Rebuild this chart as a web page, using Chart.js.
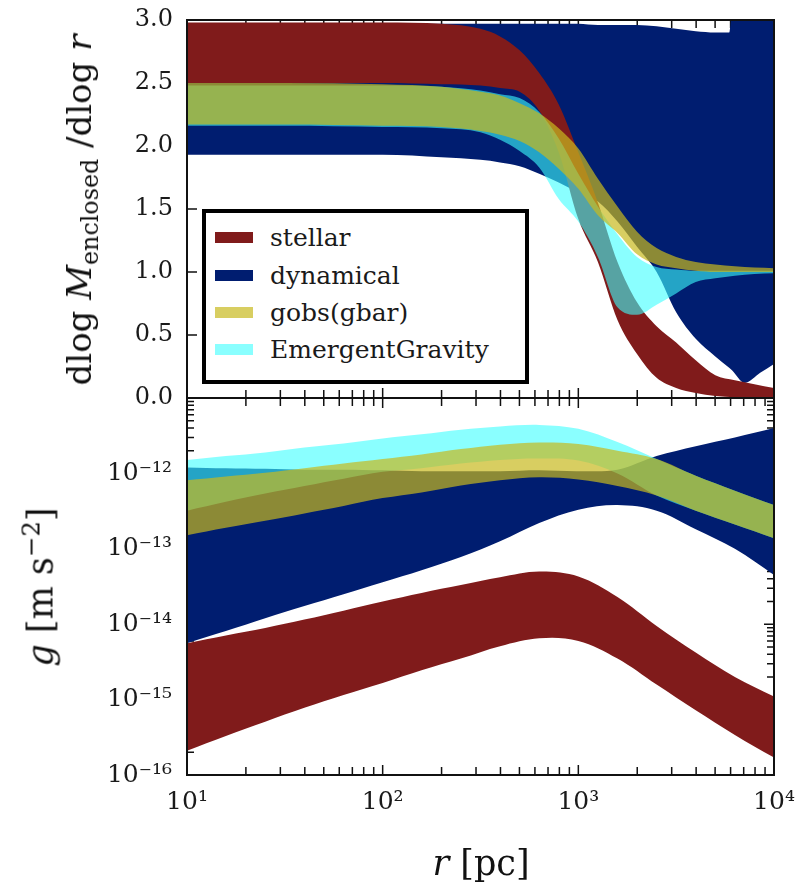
<!DOCTYPE html>
<html>
<head>
<meta charset="utf-8">
<script src="https://cdn.jsdelivr.net/npm/chart.js@4.4.0/dist/chart.umd.min.js"></script>
<style>
html,body{margin:0;padding:0;background:#fff;}
#wrap{position:relative;width:800px;height:883px;overflow:hidden;font-family:'DejaVu Serif',serif;color:#111;}
canvas{position:absolute;left:0;}
#cTop{top:0;}
#cBot{top:390px;}
.ttl{position:absolute;white-space:nowrap;font-size:35px;line-height:1;}
.rot{transform:translate(-50%,-50%) rotate(-90deg);}
.ttl sub{font-size:0.7em;vertical-align:-0.3em;line-height:0;}
.ttl sup{font-size:0.7em;vertical-align:0.55em;line-height:0;}
#legend{position:absolute;left:202px;top:209px;width:319px;height:167px;border:4px solid #000;background:#fff;}
.row{position:absolute;left:9px;height:30px;display:flex;align-items:center;font-size:25px;color:#1a1a1a;white-space:nowrap;}
.patch{width:38px;height:11px;margin-right:17px;}
</style>
</head>
<body>
<div id="wrap">
  <canvas id="cTop" width="800" height="420"></canvas>
  <canvas id="cBot" width="800" height="493"></canvas>
  <div class="ttl rot" style="left:79px;top:210px;font-size:34px;">dlog <i>M</i><sub>enclosed</sub> /dlog <i>r</i></div>
  <div class="ttl rot" style="left:41px;top:587px;"><i>g</i> [m s<sup>−2</sup>]</div>
  <div class="ttl" style="left:481px;top:846px;transform:translateX(-50%);"><i>r</i> [pc]</div>
  <div id="legend"></div>
</div>
<script>
// ---------- legend / series ----------
const SERIES_NAMES = ['stellar', 'dynamical', 'gobs(gbar)', 'EmergentGravity'];
const SERIES_COLORS = ['#801b1b', '#001d70', 'rgba(200,185,30,0.7)', 'rgba(60,255,255,0.6)'];

// ---------- ticks ----------
const X_TICKS = [10, 100, 1000, 10000];
const X_TICK_LABELS = ['10¹', '10²', '10³', '10⁴'];
const TOP_Y_TICKS = [0, 0.5, 1, 1.5, 2, 2.5, 3];
const TOP_Y_TICK_LABELS = ['0.0', '0.5', '1.0', '1.5', '2.0', '2.5', '3.0'];
const BOT_Y_TICKS = [1e-16, 1e-15, 1e-14, 1e-13, 1e-12];
const BOT_Y_TICK_LABELS = ['10⁻¹⁶', '10⁻¹⁵', '10⁻¹⁴', '10⁻¹³', '10⁻¹²'];

// ---------- top panel: dlog M_enclosed / dlog r ----------
const rTop = [10, 31.6, 100, 200, 316, 398, 501, 631, 794, 1000, 1259, 1585, 1995, 2512, 3162, 3981, 5012, 6310, 7943, 10000];
const stellarTopUpper = [2.98, 2.98, 2.98, 2.97, 2.93, 2.87, 2.76, 2.58, 2.33, 1.95, 1.55, 1.08, 0.76, 0.57, 0.44, 0.30, 0.18, 0.14, 0.11, 0.08];
const stellarTopLower = [2.50, 2.50, 2.50, 2.49, 2.48, 2.46, 2.43, 2.28, 1.95, 1.42, 1.08, 0.62, 0.35, 0.16, 0.08, 0.04, 0.015, 0.005, 0.0, 0.0];
const gobsTopUpper = [2.50, 2.50, 2.49, 2.47, 2.43, 2.40, 2.34, 2.26, 2.14, 1.98, 1.74, 1.52, 1.32, 1.19, 1.12, 1.08, 1.06, 1.045, 1.035, 1.03];
const gobsTopLower = [2.17, 2.17, 2.16, 2.15, 2.12, 2.09, 2.04, 1.95, 1.82, 1.66, 1.45, 1.31, 1.14, 1.06, 1.03, 1.01, 1.0, 1.0, 1.0, 1.0];
const egTopUpper = [2.48, 2.48, 2.48, 2.47, 2.44, 2.41, 2.38, 2.27, 2.06, 1.78, 1.52, 1.30, 1.12, 1.04, 1.02, 1.01, 1.01, 1.01, 1.01, 1.01];
const egTopLower = [2.16, 2.16, 2.15, 2.14, 2.11, 2.05, 1.96, 1.83, 1.58, 1.40, 1.12, 0.72, 0.66, 0.74, 0.83, 0.92, 0.95, 0.97, 0.985, 0.99];
const rDynTop = [10, 31.6, 100, 200, 316, 398, 501, 631, 794, 1000, 1259, 1585, 1995, 2512, 3162, 3981, 5012, 5900, 6100, 7079, 8500, 10000];
const dynTopUpper = [2.97, 2.97, 2.97, 2.97, 2.97, 2.97, 2.97, 2.97, 2.97, 2.97, 2.96, 2.96, 2.96, 2.95, 2.93, 2.91, 2.90, 2.90, 3.05, 3.05, 3.05, 3.05];
const dynTopLower = [1.93, 1.93, 1.93, 1.91, 1.89, 1.87, 1.84, 1.78, 1.71, 1.63, 1.56, 1.40, 1.20, 1.00, 0.68, 0.47, 0.33, 0.24, 0.22, 0.12, 0.20, 0.27];

// ---------- bottom panel: g [m s^-2] ----------
const rBot = [10, 15.8, 25.1, 39.8, 63.1, 100, 158, 251, 398, 631, 1000, 1585, 2512, 3981, 6310, 10000];
const stellarGUpper = [5.6e-15, 7.1e-15, 8.9e-15, 1.15e-14, 1.51e-14, 2.0e-14, 2.6e-14, 3.3e-14, 4.2e-14, 5.0e-14, 4.3e-14, 2.3e-14, 9.5e-15, 4.2e-15, 2.0e-15, 1.1e-15];
const stellarGLower = [2.1e-16, 3.3e-16, 5.1e-16, 7.8e-16, 1.15e-15, 1.66e-15, 2.45e-15, 3.5e-15, 5.1e-15, 6.5e-15, 6.0e-15, 3.5e-15, 1.58e-15, 7.2e-16, 3.4e-16, 1.7e-16];
const dynGUpper = [1.2e-12, 1.17e-12, 1.15e-12, 1.12e-12, 1.12e-12, 1.1e-12, 1.07e-12, 1.07e-12, 1.07e-12, 1.1e-12, 1.07e-12, 1.12e-12, 1.7e-12, 2.3e-12, 3.0e-12, 4.0e-12];
const dynGLower = [5.6e-15, 8.1e-15, 1.2e-14, 1.74e-14, 2.5e-14, 3.6e-14, 5.2e-14, 7.8e-14, 1.26e-13, 2.2e-13, 3.3e-13, 3.8e-13, 3.2e-13, 1.82e-13, 1.0e-13, 4.5e-14];
const gobsGUpper = [8.1e-13, 9.1e-13, 1.02e-12, 1.17e-12, 1.35e-12, 1.55e-12, 1.78e-12, 2.1e-12, 2.4e-12, 2.57e-12, 2.45e-12, 2.0e-12, 1.55e-12, 9.3e-13, 5.9e-13, 3.8e-13];
const gobsGLower = [1.51e-13, 1.9e-13, 2.35e-13, 2.95e-13, 3.7e-13, 4.7e-13, 5.6e-13, 6.9e-13, 8.1e-13, 8.9e-13, 8.3e-13, 6.8e-13, 5.1e-13, 3.2e-13, 2.1e-13, 1.38e-13];
const egGUpper = [1.51e-12, 1.7e-12, 1.9e-12, 2.2e-12, 2.5e-12, 2.9e-12, 3.3e-12, 3.8e-12, 4.2e-12, 4.4e-12, 3.9e-12, 2.6e-12, 1.55e-12, 9.3e-13, 5.9e-13, 3.8e-13];
const egGLower = [3.2e-13, 4.2e-13, 5.4e-13, 6.8e-13, 8.5e-13, 1.05e-12, 1.17e-12, 1.35e-12, 1.51e-12, 1.58e-12, 1.48e-12, 1.0e-12, 5.1e-13, 3.2e-13, 2.1e-13, 1.38e-13];

// ---------- helpers ----------
const FONT = "'DejaVu Serif', serif";
function band(xs, up, lo, color, idx, order, smooth) {
  const common = {borderWidth: 0, borderColor: 'transparent', pointRadius: 0, order: order};
  if (smooth === 'monotone') common.cubicInterpolationMode = 'monotone';
  else common.tension = 0.35;
  return [
    Object.assign({data: xs.map((x, i) => ({x: x, y: up[i]})), fill: {target: idx + 1}, backgroundColor: color}, common),
    Object.assign({data: xs.map((x, i) => ({x: x, y: lo[i]})), fill: false, backgroundColor: 'transparent'}, common)
  ];
}
function minorTicks(decades) {
  const out = [];
  decades.forEach(d => { for (let k = 2; k <= 9; k++) out.push(k * d); });
  return out;
}
function noPad(s) { s.paddingTop = 0; s.paddingBottom = 0; s.paddingLeft = 0; s.paddingRight = 0; }
function makeDecor(cfg) {
  return {
    id: 'axisDecor',
    beforeDatasetsDraw(chart) {
      const ctx = chart.ctx, a = chart.chartArea, xs = chart.scales.x, ys = chart.scales.y;
      ctx.save();
      ctx.strokeStyle = '#111';
      ctx.lineWidth = 1.5;
      ctx.beginPath();
      const yTick = (v, len) => { const y = ys.getPixelForValue(v); ctx.moveTo(a.left, y); ctx.lineTo(a.left + len, y); ctx.moveTo(a.right, y); ctx.lineTo(a.right - len, y); };
      const xTick = (v, len) => { const x = xs.getPixelForValue(v); ctx.moveTo(x, a.top); ctx.lineTo(x, a.top + len); ctx.moveTo(x, a.bottom); ctx.lineTo(x, a.bottom - len); };
      cfg.yMajor.forEach(v => yTick(v, 10));
      cfg.yMinor.forEach(v => yTick(v, 7));
      cfg.xMajor.forEach(v => xTick(v, 10));
      cfg.xMinor.forEach(v => xTick(v, 8));
      ctx.stroke();
      ctx.restore();
    },
    afterDatasetsDraw(chart) {
      const ctx = chart.ctx, a = chart.chartArea;
      ctx.save();
      ctx.strokeStyle = '#111';
      ctx.lineWidth = 2;
      ctx.strokeRect(a.left, a.top, a.right - a.left, a.bottom - a.top);
      ctx.restore();
    }
  };
}
const xMinor = minorTicks([10, 100, 1000]);

// ---------- top chart ----------
const topDatasets = [].concat(
  band(rTop, gobsTopUpper, gobsTopLower, SERIES_COLORS[2], 0, 1, 'monotone'),
  band(rTop, egTopUpper, egTopLower, SERIES_COLORS[3], 2, 2, 'monotone'),
  band(rTop, stellarTopUpper, stellarTopLower, SERIES_COLORS[0], 4, 3, 'monotone'),
  band(rDynTop, dynTopUpper, dynTopLower, SERIES_COLORS[1], 6, 4, 'monotone')
);
new Chart(document.getElementById('cTop'), {
  type: 'line',
  data: {datasets: topDatasets},
  options: {
    responsive: false, animation: false, events: [],
    layout: {padding: {top: 20, bottom: 22, left: 0, right: 26}},
    plugins: {legend: {display: false}, tooltip: {enabled: false}},
    scales: {
      x: {type: 'logarithmic', min: 10, max: 10000, display: false},
      y: {
        type: 'linear', min: 0, max: 3,
        afterFit: s => { s.width = 187; noPad(s); },
        afterBuildTicks: s => { s.ticks = TOP_Y_TICKS.map(v => ({value: v})); },
        grid: {display: false, drawTicks: false},
        border: {display: false},
        ticks: {padding: 14, color: '#1a1a1a', autoSkip: false, font: {family: FONT, size: 24},
                callback: (v, i) => TOP_Y_TICK_LABELS[i]}
      }
    }
  },
  plugins: [makeDecor({yMajor: TOP_Y_TICKS, yMinor: [], xMajor: X_TICKS, xMinor: xMinor})]
});

// ---------- bottom chart ----------
const botDatasets = [].concat(
  band(rBot, gobsGUpper, gobsGLower, SERIES_COLORS[2], 0, 1),
  band(rBot, egGUpper, egGLower, SERIES_COLORS[3], 2, 2),
  band(rBot, stellarGUpper, stellarGLower, SERIES_COLORS[0], 4, 3),
  band(rBot, dynGUpper, dynGLower, SERIES_COLORS[1], 6, 4)
);
new Chart(document.getElementById('cBot'), {
  type: 'line',
  data: {datasets: botDatasets},
  options: {
    responsive: false, animation: false, events: [],
    layout: {padding: {top: 8, bottom: 0, left: 0, right: 26}},
    plugins: {legend: {display: false}, tooltip: {enabled: false}},
    scales: {
      x: {
        type: 'logarithmic', min: 10, max: 10000,
        afterFit: s => { s.height = 108; noPad(s); },
        afterBuildTicks: s => { s.ticks = X_TICKS.map(v => ({value: v})); },
        grid: {display: false, drawTicks: false},
        border: {display: false},
        ticks: {padding: 12, color: '#1a1a1a', autoSkip: false, maxRotation: 0, font: {family: FONT, size: 25},
                callback: (v, i) => X_TICK_LABELS[i]}
      },
      y: {
        type: 'logarithmic', min: 1e-16, max: 1e-11,
        afterFit: s => { s.width = 187; noPad(s); },
        afterBuildTicks: s => { s.ticks = BOT_Y_TICKS.map(v => ({value: v})); },
        grid: {display: false, drawTicks: false},
        border: {display: false},
        ticks: {padding: 15, color: '#1a1a1a', autoSkip: false, font: {family: FONT, size: 25},
                callback: (v, i) => BOT_Y_TICK_LABELS[i]}
      }
    }
  },
  plugins: [makeDecor({
    yMajor: BOT_Y_TICKS.concat([1e-11]),
    yMinor: minorTicks([1e-16, 1e-15, 1e-14, 1e-13, 1e-12]),
    xMajor: X_TICKS, xMinor: xMinor
  })]
});

// ---------- legend (HTML) ----------
const legend = document.getElementById('legend');
const rowTops = [9.5, 47, 84.5, 121];
SERIES_NAMES.forEach((name, i) => {
  const row = document.createElement('div');
  row.className = 'row';
  row.style.top = rowTops[i] + 'px';
  const p = document.createElement('div');
  p.className = 'patch';
  p.style.background = SERIES_COLORS[i];
  const t = document.createElement('span');
  t.textContent = name;
  row.appendChild(p);
  row.appendChild(t);
  legend.appendChild(row);
});
</script>
</body>
</html>
